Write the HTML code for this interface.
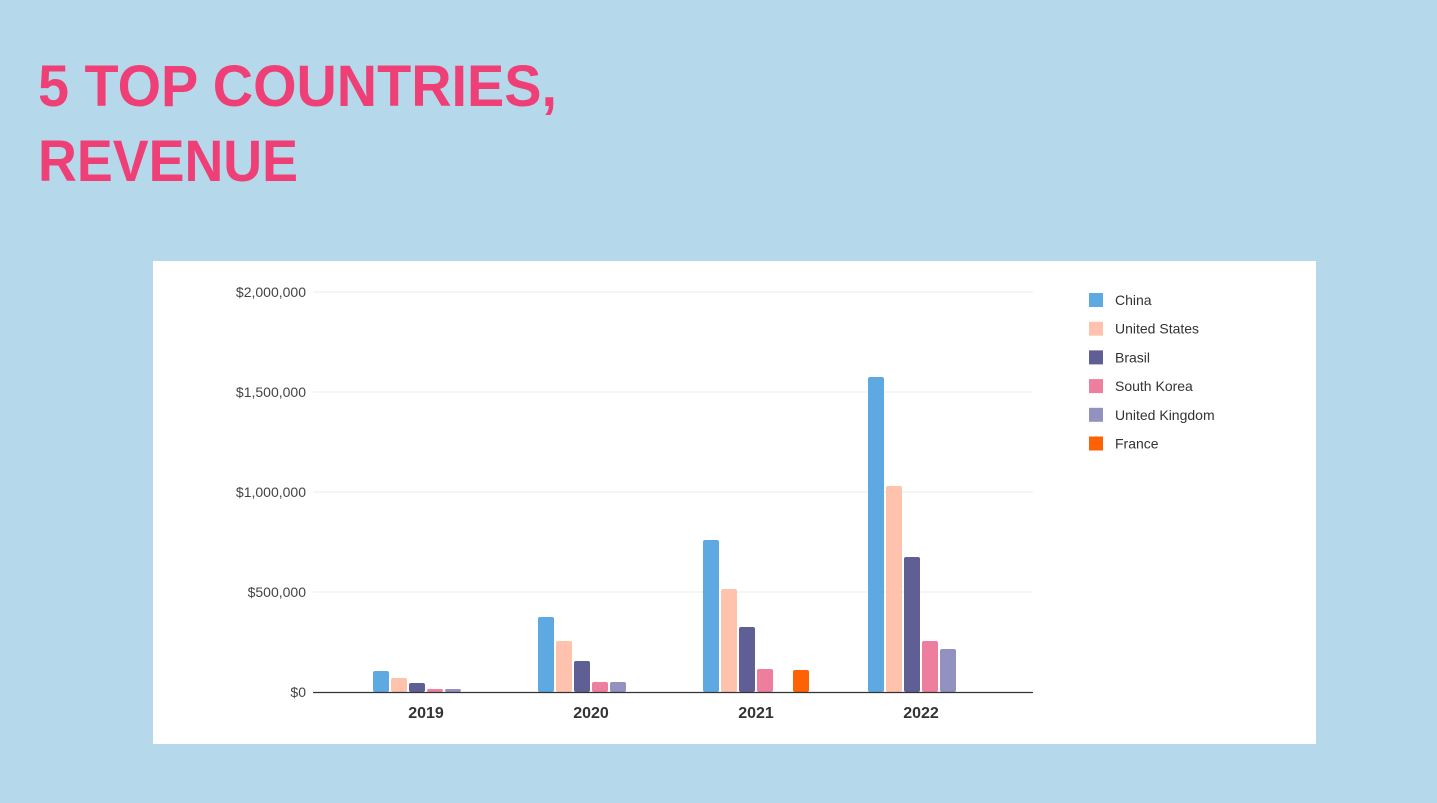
<!DOCTYPE html>
<html><head><meta charset="utf-8"><style>
html,body{margin:0;padding:0;background:#b5d8ea;width:1437px;height:803px;overflow:hidden}
svg{display:block}
</style></head><body>
<svg id="chart" width="1437" height="803" xmlns="http://www.w3.org/2000/svg" font-family="Liberation Sans, Arial, sans-serif">
<rect x="0" y="0" width="1437" height="803" fill="#b5d8ea"/>
<text x="38" y="106" font-size="58" font-weight="bold" fill="#ee4077" textLength="519" lengthAdjust="spacingAndGlyphs">5 TOP COUNTRIES,</text>
<text x="38" y="181" font-size="58" font-weight="bold" fill="#ee4077" textLength="260" lengthAdjust="spacingAndGlyphs">REVENUE</text>
<rect x="153" y="261" width="1163" height="483" fill="#ffffff"/>
<g id="grid"></g><g id="bars"></g><g id="axes"></g><g id="legend"></g>
</svg>
<script>
const categories = ["2019","2020","2021","2022"];
const seriesNames = ["China","United States","Brasil","South Korea","United Kingdom","France"];
const china = [105000,375000,760000,1575000];
const unitedStates = [70000,255000,515000,1030000];
const brasil = [45000,155000,325000,675000];
const southKorea = [15000,50000,115000,255000];
const unitedKingdom = [15000,50000,0,215000];
const france = [0,0,110000,0];
const yTicks = [0,500000,1000000,1500000,2000000];
const yTickLabels = ["$0","$500,000","$1,000,000","$1,500,000","$2,000,000"];

const seriesValues = [china,unitedStates,brasil,southKorea,unitedKingdom,france];
const colors = ["#5ea9e1","#ffc3ad","#5f5e95","#ee7e9e","#9391c0","#ff6105"];
const NS = "http://www.w3.org/2000/svg";
const X0 = 313, X1 = 1033, Y0 = 692, Y1 = 292, YMAX = 2000000;
const y = v => Y0 - (v / YMAX) * (Y0 - Y1);
const bandStart = 343.5, bandW = 165;
const x = i => bandStart + bandW * (i + 0.5);
function mk(tag, attrs, parent){const e=document.createElementNS(NS,tag);for(const k in attrs)e.setAttribute(k,attrs[k]);parent.appendChild(e);return e;}
const grid=document.getElementById('grid'),bars=document.getElementById('bars'),axes=document.getElementById('axes'),legend=document.getElementById('legend');
yTicks.forEach((t,i)=>{
  if(t>0){const l=mk('line',{x1:X0,x2:X1,y1:y(t),y2:y(t),stroke:'#ebebeb','stroke-width':1},grid);
  
  }
  const tx=mk('text',{x:306,y:y(t)+5,'text-anchor':'end','font-size':14,fill:'#444'},axes);
  tx.textContent=yTickLabels[i];
  
  
});
const slot=18,bw=16;
categories.forEach((c,ci)=>{
  const cx=x(ci), start=cx-slot*seriesValues.length/2;
  seriesValues.forEach((s,si)=>{
    const v=s[ci]; if(!v) return;
    const r=mk('rect',{x:start+si*slot+1,y:y(v),width:bw,height:Y0-y(v),fill:colors[si],rx:2},bars);
    
    
  });
  const t=mk('text',{x:cx,y:718,'text-anchor':'middle','font-size':16,'font-weight':'bold',fill:'#333'},axes);
  t.textContent=c;
  
  
});
const ax=mk('line',{x1:X0,x2:X1,y1:Y0+0.5,y2:Y0+0.5,stroke:'#333','stroke-width':1.3},axes);


seriesNames.forEach((n,i)=>{
  const yy=293+i*28.7;
  const sq=mk('rect',{x:1089,y:yy,width:14,height:14,fill:colors[i]},legend);
  
  
  const t=mk('text',{x:1115,y:yy+12,'font-size':14,fill:'#333'},legend);
  t.textContent=n;
  
  
});
</script>
</body></html>
